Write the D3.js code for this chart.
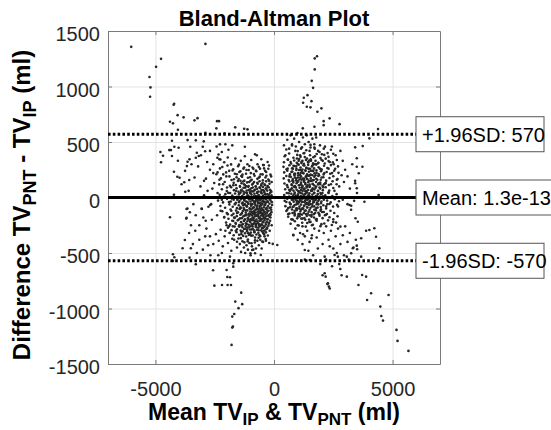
<!DOCTYPE html>
<html lang="en">
<head>
<meta charset="utf-8">
<title>Bland-Altman Plot</title>
<script src="https://d3js.org/d3.v7.min.js"></script>
<style>
  body { margin: 0; background: #fff; }
  svg text { font-family: "Liberation Sans", Arial, Helvetica, sans-serif; }
  .tick text { font-size: 20px; fill: #262626; }
  .grid line { stroke: #e3e3e3; }
  .grid path { display: none; }
</style>
</head>
<body>
<svg id="chart" width="551" height="430"></svg>
<script>
// axis ticks
var xTicks = [-5000, 0, 5000];
var yTicks = [-1500, -1000, -500, 0, 500, 1000, 1500];

// reference lines (mean difference and limits of agreement)
var meanDiff = 1.3e-13;
var upperLoA = 570;
var lowerLoA = -570;
var refLabels = ["+1.96SD: 570", "Mean: 1.3e-13", "-1.96SD: -570"];

// points: [mean (ml), difference (ml)]
var leftCore = [
  [-1480,-42],[-1455,35],[-1430,-188],[-1410,-96],[-1392,62],[-1375,-251],[-1350,-140],[-1338,12],[-1320,-305],[-1301,-70],
  [-1287,88],[-1270,-212],[-1255,-15],[-1240,-162],[-1228,45],[-1210,-280],[-1196,-118],[-1180,-36],[-1165,102],[-1150,-240],
  [-1138,-78],[-1120,20],[-1105,-190],[-1092,-320],[-1080,-55],[-1066,66],[-1050,-146],[-1037,-8],[-1021,-262],[-1008,-101],
  [-995,38],[-982,-205],[-968,-60],[-955,84],[-941,-288],[-928,-132],[-914,-22],[-900,-178],[-887,55],[-873,-240],
  [-860,-88],[-846,10],[-833,-312],[-820,-150],[-806,-44],[-792,72],[-780,-214],[-766,-110],[-752,-6],[-740,-268],
  [-726,-166],[-712,40],[-700,-72],[-686,-230],[-672,-128],[-660,18],[-646,-295],[-632,-186],[-620,-52],[-606,92],
  [-592,-246],[-580,-140],[-566,-20],[-552,-204],[-540,48],[-526,-98],[-512,-275],[-500,-158],[-486,-34],[-472,-220],
  [-460,66],[-446,-120],[-432,-8],[-420,-186],[-406,-262],[-392,-70],[-380,30],[-366,-150],[-352,-228],[-340,-46],
  [-326,80],[-312,-104],[-300,-196],[-1460,-262],[-1378,-330],[-1262,120],[-1174,-352],[-1046,140],[-958,-345],[-884,126],
  [-798,-360],[-704,132],[-618,-338],[-534,118],[-458,-320],[-372,110],[-290,-280],[-1412,150],[-1110,-395],[-975,-12],
  [-905,-95],[-850,-132],[-815,-210],[-775,-30],[-745,-160],[-720,-100],[-690,-15],[-655,-110],[-630,-250],[-598,-78],
  [-575,-190],[-545,-66],[-518,-140],[-492,-250],[-465,-110],[-440,-40],[-415,-300],[-260,-40],[-240,-160],[-222,24],
  [-205,-230],[-190,-95],[-170,-10],[-150,-180],[-135,58],[-118,-110],[-98,-250],[-262,96],[-205,150],[-180,-300],
  [-1190,-160],[-1060,-200],[-990,-150],[-940,-60],[-870,-190],[-830,-40],[-760,-240],[-730,-20],[-670,-170],[-610,-210],
  [-560,-120],[-505,-60],[-450,-170],[-395,-130],[-345,-10],[-280,-120],[-1240,-60],[-1130,-270],[-1010,-330],[-910,-260]
];
var leftDense = [
  [-2280,262],[-1960,288],[-1720,254],[-1480,296],[-1260,270],[-1040,284],[-870,258],[-640,276],[-420,262],[-210,288],
  [-2380,226],[-2140,208],[-1890,240],[-1650,214],[-1420,236],[-1330,206],[-1160,248],[-980,220],[-760,242],[-560,210],[-330,230],[-150,206],
  [-2240,172],[-2010,190],[-1790,158],[-1580,182],[-1490,166],[-1380,194],[-1250,152],[-1100,178],[-940,160],[-820,196],[-700,168],[-600,188],[-470,156],[-360,180],[-240,162],[-120,190],
  [-2310,118],[-2080,140],[-1860,106],[-1700,132],[-1610,112],[-1520,148],[-1440,104],[-1370,128],[-1300,144],[-1220,110],[-1135,136],[-1070,104],[-995,150],
  [-920,116],[-840,140],[-770,102],[-690,124],[-610,146],[-540,108],[-480,132],[-400,118],[-330,146],[-270,104],[-190,124],[-100,140],
  [-2200,74],[-1990,58],[-1810,92],[-1690,66],[-1580,84],[-1500,52],[-1430,96],[-1360,70],[-1290,54],[-1215,88],[-1150,62],[-1085,96],[-1020,72],[-960,56],
  [-895,90],[-830,64],[-770,98],[-710,78],[-650,54],[-590,86],[-530,68],[-470,94],[-410,58],[-350,80],[-285,62],[-225,92],[-165,70],[-110,52],
  [-2290,24],[-2110,8],[-1930,42],[-1760,18],[-1640,36],[-1560,6],[-1480,28],[-1410,44],[-1345,10],[-1275,32],[-1205,4],[-1140,40],[-1075,16],[-1010,46],[-950,26],
  [-890,2],[-825,34],[-765,14],[-705,48],[-645,22],[-585,6],[-525,38],[-465,18],[-405,44],[-345,8],[-285,30],[-225,14],[-165,40],[-105,20],
  [-2360,-28],[-2150,-44],[-1980,-12],[-1820,-36],[-1700,-20],[-1610,-48],[-1530,-8],[-1455,-32],[-1390,-16],[-1320,-46],[-1250,-26],[-1185,-4],[-1120,-40],[-1055,-18],[-990,-36],
  [-930,-6],[-870,-30],[-810,-48],[-750,-14],[-690,-38],[-630,-24],[-570,-46],[-510,-10],[-450,-28],[-390,-44],[-330,-18],[-270,-34],[-210,-8],[-150,-26],[-90,-42],
  [-2260,-76],[-2060,-92],[-1880,-62],[-1740,-84],[-1640,-58],[-1560,-96],[-1485,-70],[-1415,-88],[-1345,-54],[-1280,-94],[-1215,-66],[-1150,-82],[-1090,-56],[-1030,-98],[-970,-74],
  [-910,-60],[-850,-90],[-790,-66],[-730,-84],[-670,-52],[-610,-96],[-550,-72],[-490,-58],[-430,-88],[-370,-64],[-310,-92],[-250,-76],[-190,-56],[-130,-90],[-80,-68],
  [-2180,-124],[-1990,-140],[-1830,-108],[-1710,-146],[-1600,-118],[-1520,-134],[-1450,-104],[-1380,-148],[-1315,-122],[-1255,-106],[-1190,-138],[-1130,-116],[-1070,-150],[-1010,-126],[-950,-108],
  [-890,-142],[-830,-118],[-770,-136],[-710,-102],[-650,-144],[-590,-124],[-530,-110],[-470,-146],[-410,-128],[-350,-104],[-290,-138],[-230,-120],[-170,-148],[-110,-132],
  [-2100,-176],[-1920,-192],[-1780,-160],[-1660,-184],[-1570,-168],[-1490,-198],[-1420,-156],[-1355,-186],[-1290,-170],[-1225,-196],[-1160,-158],[-1100,-182],[-1040,-166],[-980,-194],
  [-920,-160],[-860,-188],[-800,-170],[-740,-198],[-680,-154],[-620,-180],[-560,-164],[-500,-192],[-440,-158],[-380,-184],[-320,-168],[-260,-196],[-200,-172],[-140,-156],
  [-2020,-226],[-1850,-244],[-1720,-212],[-1610,-236],[-1530,-206],[-1460,-248],[-1390,-222],[-1320,-240],[-1255,-208],[-1190,-232],[-1125,-214],[-1065,-246],[-1005,-220],[-945,-238],
  [-885,-204],[-825,-230],[-765,-248],[-705,-216],[-645,-236],[-585,-210],[-525,-242],[-465,-224],[-405,-206],[-345,-244],[-285,-218],[-225,-236],[-165,-210],
  [-1940,-272],[-1790,-294],[-1660,-262],[-1560,-286],[-1480,-258],[-1405,-298],[-1335,-268],[-1265,-284],[-1200,-256],[-1135,-292],[-1075,-270],[-1015,-288],[-955,-254],
  [-895,-280],[-835,-296],[-775,-264],[-715,-290],[-655,-272],[-595,-258],[-535,-296],[-475,-276],[-415,-262],[-355,-288],[-295,-270],[-235,-254],
  [-1860,-318],[-1700,-340],[-1580,-312],[-1470,-336],[-1380,-308],[-1300,-346],[-1220,-322],[-1140,-304],[-1060,-338],[-980,-316],
  [-900,-342],[-820,-310],[-740,-334],[-660,-318],[-580,-348],[-500,-306],[-420,-330],[-340,-314],[-260,-342],
  [-1760,-372],[-1560,-398],[-1400,-366],[-1250,-404],[-1100,-378],[-950,-412],[-800,-386],[-650,-362],[-500,-396],[-350,-374],[-200,-410]
];
var leftSpread = [
  [-2340,388],[-2260,342],[-2180,275],[-2100,318],[-2020,226],[-1950,360],[-1880,190],[-1810,298],[-1745,244],[-1690,165],
  [-1630,352],[-1570,210],[-1515,282],[-1460,230],[-1400,330],[-1345,186],[-1290,260],[-1230,372],[-1180,214],[-1120,300],
  [-1068,248],[-1010,182],[-960,338],[-905,270],[-850,212],[-800,390],[-748,236],[-695,300],[-640,178],[-590,260],
  [-535,345],[-480,208],[-430,292],[-375,240],[-320,196],[-270,320],[-2430,210],[-2560,300],[-2700,250],[-2870,170],
  [-2520,130],[-2300,160],[-2150,120],[-1980,90],[-1850,40],[-1720,110],[-1600,60],[-1550,-20],[-1650,-60],[-1780,-10],
  [-1900,-40],[-2050,30],[-2200,-20],[-2380,40],[-2600,80],[-2800,60],[-2950,20],[-3100,100],[-2650,-60],
  [-2450,-330],[-2330,-390],[-2250,-290],[-2160,-440],[-2080,-350],[-2000,-250],[-1940,-410],[-1870,-320],[-1800,-480],[-1735,-260],
  [-1680,-380],[-1610,-300],[-1560,-450],[-1500,-370],[-1440,-420],[-1390,-490],[-1330,-395],[-1270,-450],[-1215,-500],[-1160,-430],
  [-1100,-470],[-1040,-410],[-985,-520],[-930,-440],[-870,-470],[-810,-405],[-760,-460],[-700,-390],[-640,-430],[-580,-380],
  [-520,-460],[-460,-400],[-400,-350],[-340,-390],[-2560,-420],[-2700,-350],[-2850,-280],[-2620,-200],[-2400,-160],[-2250,-120],
  [-2100,-180],[-1950,-150],[-1800,-120],[-1680,-180],[-1560,-140],[-1620,-230],[-1760,-210],[-1900,-260],[-2050,-300],[-2980,-180],
  [-3150,-250],[-3320,-300],[-2200,-500],[-2350,-520],[-3580,-320],[-3420,-420],[-3300,-160],[-3150,-380],[-3000,-470],[-2900,-350],
  [-2780,-430],[-2680,-520],[-3500,-250],[-3250,-500],[-3050,-100],[-2880,-210],[-3400,-60],[-3650,-100],[-3700,-190],
  [-3900,120],[-3750,240],[-3600,60],[-3480,300],[-3350,180],[-3200,280],[-3080,380],[-2950,150],[-2820,320],[-2700,420],
  [-2560,220],[-2420,460],[-2200,410],[-2050,480],[-1920,430],[-1760,470]
];
var rightCore = [
  [520,-40],[548,112],[575,260],[600,-150],[622,38],[650,190],[676,-88],[700,320],[725,72],[748,-196],
  [772,150],[798,-20],[820,286],[846,96],[870,-120],[895,214],[918,12],[942,-62],[966,352],[990,140],
  [1012,-170],[1036,58],[1060,248],[1085,-30],[1108,178],[1132,-110],[1156,310],[1180,88],[1203,-190],[1226,222],
  [1250,20],[1274,-76],[1298,364],[1320,130],[1345,-148],[1368,268],[1392,46],[1415,-20],[1440,196],[1462,-128],
  [1486,334],[1510,102],[1534,-60],[1556,240],[1580,-172],[1604,60],[1628,290],[1650,-20],[1675,158],[1698,-110],
  [1722,372],[1746,86],[1770,-198],[1792,222],[1816,14],[1840,-90],[1864,310],[1888,128],[1910,-150],[1935,260],
  [1958,40],[1982,-52],[2006,180],[2030,-130],[2055,330],[2078,92],[2100,-20],[2126,220],[2150,-160],[2175,130],
  [560,-110],[590,340],[640,70],[690,-60],[735,230],[780,-140],[810,150],[860,30],[905,-20],[935,280],
  [980,-100],[1020,200],[1050,110],[1095,-150],[1120,40],[1165,160],[1190,-40],[1240,290],[1285,80],[1310,-30],
  [1355,190],[1400,-90],[1430,320],[1475,20],[1500,-160],[1545,150],[1590,70],[1615,-80],[1660,240],[1700,40],
  [1735,-140],[1780,300],[1825,160],[1870,-30],[1920,90],[1965,-120],[2010,250],[2060,10],[2110,120],[2200,-80],
  [720,0],[760,110],[800,260],[830,-80],[880,180],[920,90],[960,-40],[1000,20],[1040,330],[1070,-100],
  [1110,250],[1140,120],[1170,-10],[1210,60],[1260,170],[1290,-120],[1330,240],[1370,-60],[1410,110],[1450,260],
  [1490,-40],[1520,200],[1570,-10],[1640,120],[1690,300],[1750,200],[1800,-60],[1850,60],[1900,200],[1950,120],
  [1280,400],[1100,380],[900,420],[1500,420],[1700,450],[800,-200],[1000,-250],[1200,-260],[1400,-230],[1600,-250],
  [860,210],[940,170],[1010,300],[1130,220],[1200,330],[1340,60],[1380,170],[1470,150],[1560,330],[1620,200],
  [880,-150],[1060,-40],[1150,-190],[1230,-100],[1320,-200],[1440,-60],[1540,-220],[1680,-40],[1760,-20],[1990,30]
];
var rightDense = [
  [520,432],[760,468],[1000,418],[1180,452],[1360,426],[1540,474],[1720,440],[1920,410],[2150,458],[2400,430],
  [450,372],[640,396],[820,358],[980,384],[1120,366],[1250,398],[1390,352],[1520,380],[1660,362],[1800,392],[1960,356],[2120,384],[2300,366],[2500,394],
  [420,318],[580,342],[720,306],[850,334],[960,312],[1060,346],[1160,322],[1260,304],[1350,338],[1450,316],[1550,344],[1650,308],[1750,330],[1870,312],[2000,340],[2140,306],[2300,328],[2480,316],[2650,338],
  [400,276],[530,254],[650,290],[760,262],[860,284],[950,258],[1040,296],[1120,270],[1200,252],[1280,288],[1360,266],[1440,294],[1520,258],[1600,280],[1690,262],[1780,298],[1880,272],[1990,254],[2110,286],[2250,266],[2400,292],[2580,258],
  [430,226],[560,242],[670,208],[770,234],[860,214],[940,248],[1020,220],[1095,204],[1170,238],[1245,216],[1320,246],[1395,210],[1470,232],[1545,206],[1625,240],[1705,218],[1790,244],[1880,212],[1980,236],[2090,208],[2220,230],[2370,214],[2540,242],[2720,222],
  [410,172],[520,194],[620,158],[710,186],[790,166],[865,198],[935,154],[1005,180],[1075,162],[1140,192],[1210,170],[1275,156],[1340,188],[1410,164],[1480,196],[1550,172],[1625,154],[1700,186],[1780,168],[1870,194],[1970,160],[2080,182],[2200,152],[2340,176],[2500,192],[2680,166],
  [440,126],[550,108],[650,144],[740,118],[815,136],[885,104],[950,128],[1015,146],[1080,112],[1140,134],[1200,106],[1260,142],[1320,120],[1380,102],[1440,138],[1500,116],[1565,148],[1630,124],[1700,108],[1775,140],[1860,118],[1950,134],[2050,104],[2170,128],[2310,112],[2470,146],[2640,120],
  [470,74],[580,92],[670,58],[750,84],[820,62],[890,96],[955,70],[1020,54],[1080,88],[1140,66],[1200,98],[1260,76],[1320,56],[1380,90],[1440,68],[1500,94],[1565,60],[1630,82],[1700,72],[1780,98],[1860,58],[1950,80],[2060,66],[2180,92],[2330,62],[2500,86],
  [430,22],[540,40],[640,8],[730,34],[805,16],[875,44],[945,4],[1010,28],[1070,48],[1130,12],[1190,36],[1250,2],[1310,30],[1370,46],[1430,18],[1490,38],[1555,6],[1620,26],[1690,42],[1765,14],[1845,32],[1935,8],[2040,40],[2160,20],[2300,46],[2460,12],[2640,30],
  [450,-30],[560,-12],[660,-46],[750,-20],[830,-38],[900,-6],[970,-28],[1035,-44],[1095,-16],[1155,-34],[1215,-8],[1275,-40],[1335,-22],[1395,-48],[1455,-14],[1520,-32],[1590,-10],[1660,-42],[1735,-24],[1815,-46],[1900,-18],[2000,-36],[2110,-4],[2240,-28],[2390,-44],[2560,-16],[2740,-34],
  [480,-78],[600,-94],[700,-60],[790,-86],[870,-68],[940,-98],[1010,-56],[1075,-82],[1140,-64],[1205,-96],[1270,-72],[1335,-54],[1400,-88],[1470,-66],[1540,-92],[1615,-58],[1695,-80],[1780,-96],[1870,-62],[1970,-86],[2080,-70],[2200,-98],[2340,-58],[2490,-82],[2660,-66],
  [520,-122],[650,-144],[760,-108],[860,-136],[950,-114],[1030,-148],[1110,-126],[1185,-104],[1260,-140],[1340,-118],[1420,-146],[1500,-110],[1585,-132],[1675,-150],[1770,-116],[1870,-138],[1980,-106],[2100,-130],[2230,-148],[2380,-120],[2540,-140],
  [600,-174],[740,-196],[870,-162],[980,-188],[1080,-170],[1180,-154],[1280,-186],[1380,-166],[1480,-198],[1580,-158],[1690,-180],[1800,-194],[1920,-164],[2050,-186],[2190,-156],[2340,-178],[2500,-196],[2680,-170],
  [700,-236],[880,-214],[1040,-252],[1190,-228],[1340,-262],[1490,-220],[1640,-246],[1800,-210],[1960,-258],[2120,-234],[2280,-206],[2440,-248],[2620,-226],[2800,-262]
];
var rightSpread = [
  [420,470],[480,380],[560,520],[640,440],[700,560],[760,480],[850,530],[920,460],[990,580],[1060,500],
  [1140,440],[1220,540],[1300,480],[1380,560],[1460,500],[1540,450],[1620,530],[1700,480],[1780,540],[1860,420],
  [1940,470],[2020,390],[2100,440],[2180,350],[2260,400],[2350,320],[2440,460],[2520,300],[2600,380],[2700,280],
  [2800,420],[2900,330],[3000,250],[2850,200],[2650,160],[2450,220],[2300,260],[2400,120],[2550,60],[2750,100],
  [2950,140],[3100,190],[3200,80],[3300,300],[3420,150],[3500,40],[3380,-30],[3250,-110],[3100,-60],[2900,-20],
  [2700,-80],[2500,0],[2300,40],[2250,-60],
  [820,-340],[900,-280],[1000,-380],[1100,-320],[1200,-420],[1300,-350],[1400,-300],[1500,-400],[1600,-340],[1700,-280],
  [1800,-360],[1900,-300],[2000,-240],[2100,-320],[2200,-260],[2300,-380],[2400,-300],[2500,-220],[2600,-350],[2700,-280],
  [2800,-420],[2900,-340],[3000,-260],[3100,-400],[3200,-320],[3350,-450],[3450,-380],[2500,-460],[2650,-500],[2350,-440],
  [2050,-420],[1850,-460],[1650,-520],[1450,-480],[1300,-560],[2950,-520],[3150,-560],[2750,-600],[2200,-560],[1950,-600],
  [2450,-620],[2850,-700],[2050,-700],[2250,-780],[2350,-820]
];
var outliers = [
  [-6021,1357],[-2891,1384],[-4764,1249],[-4973,1177],[-5250,1085],[-5208,992],[-5225,907],[-4232,835],[-4210,845],[-4064,742],
  [-4387,682],[-4261,668],[-3813,722],[-3352,695],[-3226,715],[-4052,610],[-2402,688],[-2317,688],[-2430,623],[-1634,632],
  [-1257,619],[-1119,614],[-2891,583],[-2082,578],[-4303,511],[-3645,517],[-3297,515],[-2961,506],[-2277,479],[-1229,457],
  [-4415,427],[-4345,427],[-4790,410],[-4680,376],[-4022,448],[-4202,457],[-4764,317],[-3532,457],[-3004,457],[-3255,403],
  [-2904,416],[-4303,374],[-4052,331],[-3645,322],[-3561,344],[-3673,283],[-3297,358],[-3171,374],[-2388,358],[-2305,344],
  [-725,380],[-461,293],[-239,259],[-4219,232],[-4077,187],[-3981,178],[-3784,137],[-3574,158],[-3742,52],[-4219,25],
  [-4387,-178],[-3687,-104],[-3549,-133],[-3687,-182],[-3046,-104],[-2765,-83],[-2694,-68],[-3758,-383],[-3855,-457],[-4261,-511],
  [-4203,-538],[-4261,-571],[-3561,-542],[-3506,-457],[-3297,-601],[-2568,-655],[-2514,-794],[-2191,-788],[-1999,-653],[-1969,-716],
  [-1856,-718],[-1957,-788],[-1814,-788],[-1383,-857],[-1634,-938],[-1341,-961],[-1496,-997],[-1676,-1049],[-1760,-1073],[-1731,-1163],
  [-1760,-1172],[-1789,-1328],[-922,-473],[-993,-502],[-796,-502],[-557,-518],[-1718,-592],[-1718,-623],[-1856,-533],
  [1815,1273],[1718,1253],[1718,1154],[1592,1051],[1648,988],[1412,922],[1257,898],[1580,868],[1228,853],[1383,817],
  [1538,812],[2000,803],[1831,772],[2346,713],[2095,688],[2765,661],[1215,623],[1705,637],[2095,652],[4387,616],
  [4022,533],[3742,463],[3423,452],[3490,353],[3490,277],[3729,277],[3574,218],[3423,128],[3490,83],[4412,22],
  [809,-337],[1228,-331],[1580,-367],[1299,-473],[1508,-563],[2137,-533],[2556,-518],[2694,-533],[3071,-533],[3255,-502],
  [3507,-466],[3675,-533],[3884,-713],[3717,-698],[2137,-682],[2179,-713],[2275,-772],[2317,-803],[2794,-644],[3071,-713],
  [3562,-788],[3926,-923],[4094,-862],[4483,-983],[4831,-878],[4525,-1067],[4596,-1109],[5166,-1193],[5208,-1292],[5669,-1382],
  [4022,-293],[4232,-277],[4303,-353],[4441,-457],[4441,-547],[3884,-299],[3675,-367],[3490,-434],[3323,-457],[3184,-68],
  [3255,-74],[3436,-187],[3532,-218],[3813,-38],[-54,-418],[138,-428]
];

var points = leftCore.concat(leftDense, leftSpread, rightCore, rightDense, rightSpread, outliers);

var svg = d3.select("#chart");
var plotLeft = 108, plotRight = 440, plotTop = 31, plotBottom = 364;

var x = d3.scaleLinear().domain([-7000, 7000]).range([plotLeft, plotRight]);
var y = d3.scaleLinear().domain([-1500, 1500]).range([plotBottom, plotTop]);
var fmt = function(d) { return String(d); };

// grid
svg.append("g").attr("class", "grid")
  .attr("transform", "translate(0," + plotBottom + ")")
  .call(d3.axisBottom(x).tickValues(xTicks).tickSize(-(plotBottom - plotTop)).tickFormat(""));
svg.append("g").attr("class", "grid")
  .attr("transform", "translate(" + plotLeft + ",0)")
  .call(d3.axisLeft(y).tickValues(yTicks).tickSize(-(plotRight - plotLeft)).tickFormat(""));

// points
svg.append("g")
  .selectAll("circle")
  .data(points)
  .enter()
  .append("circle")
    .attr("cx", function(d) { return x(d[0]); })
    .attr("cy", function(d) { return y(d[1]); })
    .attr("r", 1.3)
    .attr("fill", "#262626");

// axes box with inward ticks
var axisColor = "#7a7a7a";
function styleAxis(g) {
  g.select(".domain").attr("stroke", axisColor);
  g.selectAll(".tick line").attr("stroke", axisColor);
}
svg.append("g").attr("transform", "translate(0," + plotBottom + ")")
  .call(d3.axisBottom(x).tickValues(xTicks).tickFormat(fmt).tickSizeInner(-4).tickSizeOuter(0))
  .call(styleAxis)
  .call(function(g) { g.selectAll(".tick text").attr("y", 18).attr("dy", "0.71em"); });
svg.append("g").attr("transform", "translate(0," + plotTop + ")")
  .call(d3.axisTop(x).tickValues(xTicks).tickSizeInner(-4).tickSizeOuter(0).tickFormat(""))
  .call(styleAxis);
svg.append("g").attr("transform", "translate(" + plotLeft + ",0)")
  .call(d3.axisLeft(y).tickValues(yTicks).tickFormat(fmt).tickSizeInner(-4).tickSizeOuter(0))
  .call(styleAxis)
  .call(function(g) { g.selectAll(".tick text").attr("x", -8).attr("dy", "0.48em"); });
svg.append("g").attr("transform", "translate(" + plotRight + ",0)")
  .call(d3.axisRight(y).tickValues(yTicks).tickSizeInner(-4).tickSizeOuter(0).tickFormat(""))
  .call(styleAxis);

// reference lines
var boxLeft = 416;
svg.append("line")
  .attr("x1", plotLeft).attr("x2", boxLeft)
  .attr("y1", y(meanDiff)).attr("y2", y(meanDiff))
  .attr("stroke", "#000").attr("stroke-width", 3.2);
[upperLoA, lowerLoA].forEach(function(v) {
  svg.append("line")
    .attr("x1", plotLeft).attr("x2", boxLeft)
    .attr("y1", y(v)).attr("y2", y(v))
    .attr("stroke", "#000").attr("stroke-width", 3)
    .attr("stroke-dasharray", "2.6,2.2");
});

// labels in boxes
[upperLoA, meanDiff, lowerLoA].forEach(function(v, i) {
  var g = svg.append("g").attr("transform", "translate(" + boxLeft + "," + y(v) + ")");
  g.append("rect")
    .attr("x", 0).attr("y", -17.5)
    .attr("width", i == 1 ? 150 : 128).attr("height", 35)
    .attr("fill", "#fff").attr("stroke", "#555").attr("stroke-width", 1);
  g.append("text")
    .attr("x", 6).attr("y", 7.5)
    .style("font-size", "20px").attr("fill", "#000")
    .text(refLabels[i]);
});

// title
svg.append("text")
  .attr("x", (plotLeft + plotRight) / 2).attr("y", 26)
  .attr("text-anchor", "middle")
  .style("font-size", "22px").style("font-weight", "bold")
  .text("Bland-Altman Plot");

// x label
var xl = svg.append("text")
  .attr("x", (plotLeft + plotRight) / 2).attr("y", 420)
  .attr("text-anchor", "middle")
  .style("font-size", "23px").style("font-weight", "bold");
xl.append("tspan").text("Mean TV");
xl.append("tspan").attr("dy", 5).style("font-size", "17px").text("IP");
xl.append("tspan").attr("dy", -5).text(" & TV");
xl.append("tspan").attr("dy", 5).style("font-size", "17px").text("PNT");
xl.append("tspan").attr("dy", -5).text(" (ml)");

// y label
var yl = svg.append("text")
  .attr("transform", "translate(30,205) rotate(-90)")
  .attr("text-anchor", "middle")
  .style("font-size", "24px").style("font-weight", "bold");
yl.append("tspan").text("Difference TV");
yl.append("tspan").attr("dy", 6).style("font-size", "18px").text("PNT");
yl.append("tspan").attr("dy", -6).text(" - TV");
yl.append("tspan").attr("dy", 6).style("font-size", "18px").text("IP");
yl.append("tspan").attr("dy", -6).text(" (ml)");
</script>
</body>
</html>
